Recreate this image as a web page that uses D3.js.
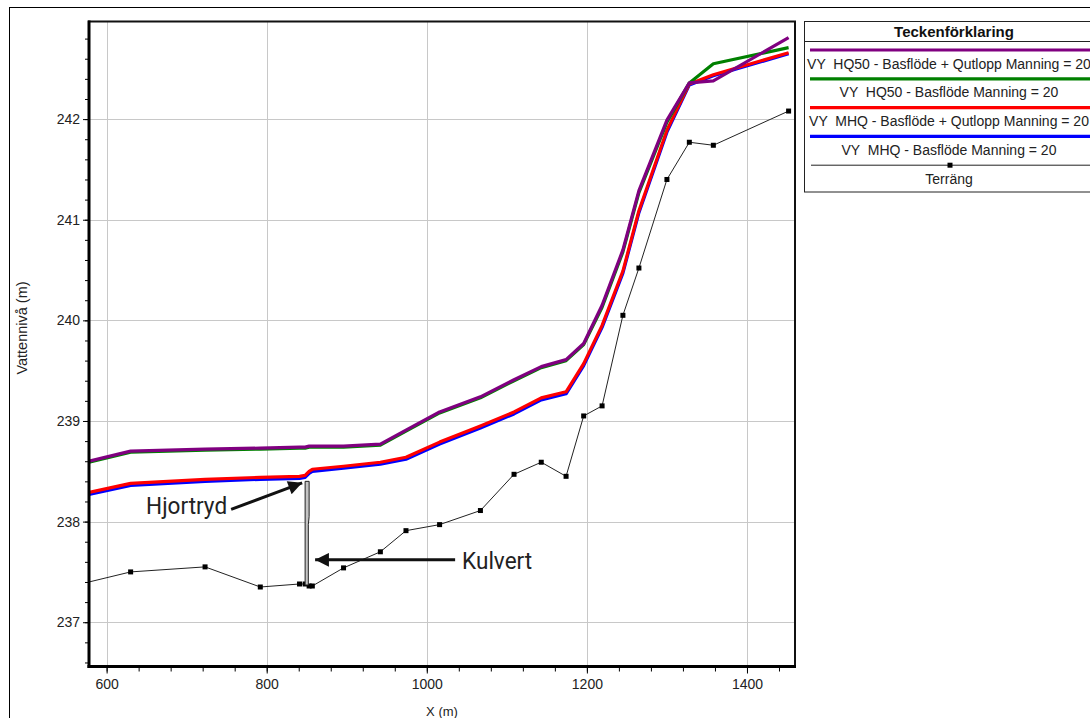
<!DOCTYPE html>
<html>
<head>
<meta charset="utf-8">
<title>Vattennivå</title>
<script src="https://cdn.jsdelivr.net/npm/d3@7"></script>
<style>
  body { margin: 0; background: #fff; }
  text { font-family: "Liberation Sans", Arial, sans-serif; }
</style>
</head>
<body>
<svg width="1090" height="718"></svg>
<script>
// sektioner (X i m) och nivåer
const stations = [578, 630, 723, 792, 841, 848, 853, 857, 896, 942, 974, 1016, 1067, 1109, 1143, 1174, 1196, 1219, 1245, 1265, 1300, 1328, 1358, 1452];
const terrain  = [237.40, 237.50, 237.55, 237.35, 237.38, 237.38, 237.36, 237.36, 237.54, 237.70, 237.91, 237.97, 238.11, 238.47, 238.59, 238.45, 239.05, 239.15, 240.05, 240.52, 241.40, 241.77, 241.74, 242.08];
const hq50Ut   = [238.60, 238.70, 238.72, 238.73, 238.74, 238.74, 238.75, 238.75, 238.75, 238.77, 238.91, 239.09, 239.24, 239.41, 239.54, 239.61, 239.77, 240.15, 240.70, 241.29, 241.99, 242.36, 242.38, 242.81];
const hq50     = [238.59, 238.69, 238.71, 238.72, 238.73, 238.73, 238.74, 238.74, 238.74, 238.76, 238.90, 239.08, 239.23, 239.40, 239.53, 239.60, 239.76, 240.13, 240.68, 241.27, 241.97, 242.36, 242.55, 242.71];
const mhqUt    = [238.29, 238.38, 238.42, 238.44, 238.45, 238.46, 238.50, 238.52, 238.55, 238.59, 238.64, 238.79, 238.95, 239.09, 239.23, 239.29, 239.57, 239.95, 240.49, 241.09, 241.89, 242.35, 242.44, 242.66];
const mhq      = [238.27, 238.36, 238.40, 238.42, 238.43, 238.44, 238.48, 238.50, 238.53, 238.57, 238.62, 238.77, 238.93, 239.07, 239.21, 239.27, 239.55, 239.93, 240.47, 241.07, 241.87, 242.34, 242.43, 242.65];

// kulvert (Hjortryd)
const culvertX = [848, 853, 853, 852, 852, 848];
const culvertY = [238.40, 238.40, 238.05, 237.97, 237.37, 237.37];

const xTicks = [600, 800, 1000, 1200, 1400];
const yTicks = [237, 238, 239, 240, 241, 242];

const seriesNames = [
  "VY  HQ50 - Basflöde + Qutlopp Manning = 20",
  "VY  HQ50 - Basflöde Manning = 20",
  "VY  MHQ - Basflöde + Qutlopp Manning = 20",
  "VY  MHQ - Basflöde Manning = 20"
];
const seriesValues = [hq50Ut, hq50, mhqUt, mhq];
const seriesColors = ["#800080", "#008000", "#ff0000", "#0000ff"];

const pLeft = 89, pRight = 795, pTop = 21.5, pBottom = 666.5;

const svg = d3.select("svg");

const x = d3.scaleLinear().domain([578, 1460]).range([pLeft, pRight]);
const y = d3.scaleLinear().domain([236.56, 242.97]).range([pBottom, pTop]);

// yttre ram
svg.append("rect")
  .attr("x", 9.5).attr("y", 7.5)
  .attr("width", 1100).attr("height", 730)
  .attr("fill", "none").attr("stroke", "#000");

svg.append("clipPath").attr("id", "plot")
  .append("rect")
  .attr("x", pLeft).attr("y", pTop)
  .attr("width", pRight - pLeft).attr("height", pBottom - pTop);

// rutnät
const grid = svg.append("g").attr("stroke", "#c8c8c8").attr("stroke-width", 1);
grid.selectAll(".gx").data(xTicks).join("line")
  .attr("x1", d => Math.round(x(d)) + 0.5).attr("x2", d => Math.round(x(d)) + 0.5)
  .attr("y1", pTop).attr("y2", pBottom);
grid.selectAll(".gy").data(yTicks).join("line")
  .attr("y1", d => Math.round(y(d)) + 0.5).attr("y2", d => Math.round(y(d)) + 0.5)
  .attr("x1", pLeft).attr("x2", pRight);

// axlar
const xAxis = d3.axisBottom(x).tickValues(xTicks).tickSize(6).tickPadding(6).tickFormat(d3.format("d"));
const xMinor = d3.axisBottom(x).tickValues(d3.range(600, 1460, 40)).tickSize(4).tickFormat("");
const yAxis = d3.axisLeft(y).tickValues(yTicks).tickSize(5).tickPadding(3).tickFormat(d3.format("d"));
const yMinor = d3.axisLeft(y).tickValues(d3.range(236.6, 242.97, 0.2)).tickSize(3).tickFormat("");

function styleAxis(g) {
  g.select(".domain").remove();
  g.selectAll("line").attr("stroke", "#000");
  g.selectAll("text").attr("fill", "#222").style("font-size", "14px")
    .style("font-family", "'Liberation Sans', Arial, sans-serif");
}

svg.append("g").attr("transform", `translate(0,${pBottom + 1})`).call(xMinor).call(styleAxis);
svg.append("g").attr("transform", `translate(0,${pBottom + 1})`).call(xAxis).call(styleAxis);
svg.append("g").attr("transform", `translate(${pLeft - 1},0)`).call(yMinor).call(styleAxis);
svg.append("g").attr("transform", `translate(${pLeft - 1},0)`).call(yAxis).call(styleAxis);

svg.append("text")
  .attr("x", (pLeft + pRight) / 2).attr("y", 716)
  .attr("text-anchor", "middle").attr("fill", "#222")
  .style("font-size", "13px").text("X (m)");

svg.append("text")
  .attr("transform", `translate(27,${(pTop + pBottom) / 2 - 16}) rotate(-90)`)
  .attr("text-anchor", "middle").attr("fill", "#222")
  .style("font-size", "14.5px").text("Vattennivå (m)");

const plot = svg.append("g").attr("clip-path", "url(#plot)");

const line = d3.line().x(d => x(d[0])).y(d => y(d[1]));

// terräng
const terrPts = stations.map((s, i) => [s, terrain[i]]);
plot.append("path")
  .datum(terrPts)
  .attr("d", line)
  .attr("fill", "none").attr("stroke", "#222").attr("stroke-width", 1);
plot.selectAll(".mk").data(terrPts.filter(d => d[0] > 580)).join("rect")
  .attr("x", d => x(d[0]) - 2.5).attr("y", d => y(d[1]) - 2.5)
  .attr("width", 5).attr("height", 5).attr("fill", "#000");

// kulvert
plot.append("path")
  .datum(culvertX.map((c, i) => [c, culvertY[i]]))
  .attr("d", d => line(d) + "Z")
  .attr("fill", "#c4c4c4").attr("stroke", "#222").attr("stroke-width", 1);

// vattenytor, ritas bakifrån
[3, 2, 1, 0].forEach(k => {
  plot.append("path")
    .datum(stations.map((s, i) => [s, seriesValues[k][i]]))
    .attr("d", line)
    .attr("fill", "none")
    .attr("stroke", seriesColors[k])
    .attr("stroke-width", 3.2)
    .attr("stroke-linejoin", "round");
});

// ram runt diagrammet
svg.append("rect")
  .attr("x", pLeft).attr("y", pTop)
  .attr("width", pRight - pLeft).attr("height", pBottom - pTop)
  .attr("fill", "none").attr("stroke", "#111").attr("stroke-width", 2);
svg.append("line").attr("x1", pLeft).attr("x2", pLeft).attr("y1", pTop - 1).attr("y2", pBottom + 1.5)
  .attr("stroke", "#000").attr("stroke-width", 3);
svg.append("line").attr("x1", pLeft - 1.5).attr("x2", pRight + 1).attr("y1", pBottom).attr("y2", pBottom)
  .attr("stroke", "#000").attr("stroke-width", 3);

// annoteringar
svg.append("defs").append("marker")
  .attr("id", "arrow").attr("viewBox", "0 0 10 10")
  .attr("refX", 10).attr("refY", 5)
  .attr("markerWidth", 5.4).attr("markerHeight", 4.6)
  .attr("markerUnits", "strokeWidth")
  .attr("orient", "auto")
  .append("path").attr("d", "M0,0L10,5L0,10Z").attr("fill", "#111");

const ann = svg.append("g").attr("fill", "#222");

ann.append("text")
  .attr("x", x(848) - 159).attr("y", y(238.40) + 33)
  .style("font-size", "24px").attr("textLength", 81).attr("lengthAdjust", "spacingAndGlyphs")
  .style("font-family", "Roboto, sans-serif")
  .text("Hjortryd");
ann.append("line")
  .attr("x1", x(848) - 74).attr("y1", y(238.40) + 28)
  .attr("x2", x(848) - 3).attr("y2", y(238.40) + 1.5)
  .attr("stroke", "#111").attr("stroke-width", 3)
  .attr("marker-end", "url(#arrow)");

ann.append("text")
  .attr("x", x(853) + 153).attr("y", y(237.62) + 9)
  .style("font-size", "24px").attr("textLength", 70).attr("lengthAdjust", "spacingAndGlyphs")
  .style("font-family", "Roboto, sans-serif")
  .text("Kulvert");
ann.append("line")
  .attr("x1", x(853) + 146).attr("y1", y(237.62))
  .attr("x2", x(853) + 6).attr("y2", y(237.62))
  .attr("stroke", "#111").attr("stroke-width", 3)
  .attr("marker-end", "url(#arrow)");

// teckenförklaring
const lg = svg.append("g");
const lgX = 804.5, lgW = 300, lgC = 949;
lg.append("rect").attr("x", lgX).attr("y", pTop).attr("width", lgW).attr("height", 170.5)
  .attr("fill", "#fff").attr("stroke", "#222").attr("stroke-width", 1);
lg.append("line").attr("x1", lgX).attr("x2", lgX + lgW).attr("y1", 41.5).attr("y2", 41.5)
  .attr("stroke", "#222");
lg.append("text").attr("x", 954).attr("y", 36.5).attr("text-anchor", "middle")
  .style("font-size", "15px").style("font-weight", "bold").attr("fill", "#111")
  .text("Teckenförklaring");

const rowY = d3.scaleLinear().domain([0, 1]).range([50, 78.8]);
seriesNames.forEach((name, i) => {
  lg.append("line").attr("x1", 810).attr("x2", 1100)
    .attr("y1", rowY(i)).attr("y2", rowY(i))
    .attr("stroke", seriesColors[i]).attr("stroke-width", 3.2);
  lg.append("text").attr("x", lgC).attr("y", rowY(i) + 18.5)
    .attr("text-anchor", "middle").attr("fill", "#222")
    .style("font-size", "14px").style("white-space", "pre")
    .text(name);
});
lg.append("line").attr("x1", 811).attr("x2", 1100)
  .attr("y1", rowY(4)).attr("y2", rowY(4))
  .attr("stroke", "#222").attr("stroke-width", 1);
lg.append("rect").attr("x", 950 - 2.5).attr("y", rowY(4) - 2.5)
  .attr("width", 5).attr("height", 5).attr("fill", "#000");
lg.append("text").attr("x", lgC).attr("y", rowY(4) + 18.5)
  .attr("text-anchor", "middle").attr("fill", "#222")
  .style("font-size", "14px").text("Terräng");
</script>
</body>
</html>
